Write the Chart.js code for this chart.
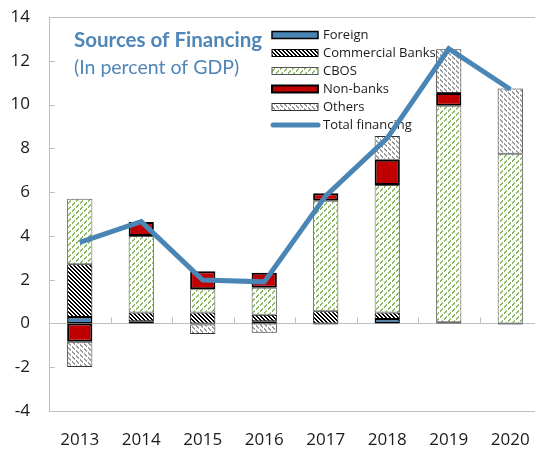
<!DOCTYPE html>
<html>
<head>
<meta charset="utf-8">
<script src="https://cdn.jsdelivr.net/npm/chart.js@4"></script>
<style>
  html, body { margin: 0; padding: 0; background: #fff; overflow: hidden; }
  #wrap { width: 545px; height: 449px; }
</style>
</head>
<body>
<div id="wrap"><canvas id="myChart" width="545" height="449"></canvas></div>
<script>
// data (percent of GDP)
const years = ["2013", "2014", "2015", "2016", "2017", "2018", "2019", "2020"];
const foreign = [0.3, 0.1, -0.05, 0.1, -0.05, 0.2, 0.05, -0.05];
const commercialBanks = [2.4, 0.4, 0.5, 0.3, 0.56, 0.3, 0, 0];
const cbos = [3.0, 3.5, 1.06, 1.23, 5.04, 5.83, 9.9, 7.75];
const nonBanks = [-0.84, 0.63, 0.82, 0.69, 0.35, 1.15, 0.58, 0];
const others = [-1.15, 0, -0.43, -0.43, 0, 1.08, 2.0, 2.98];
const totalFinancing = [3.7, 4.65, 1.98, 1.9, 5.83, 8.47, 12.55, 10.7];
const yTicks = [-4, -2, 0, 2, 4, 6, 8, 10, 12, 14];

const blue = "#4a86b5";

// small pixel tiles for the hatched fills
function hatch(size, test, color) {
	const c = document.createElement("canvas");
	c.width = size;
	c.height = size;
	const g = c.getContext("2d");
	g.fillStyle = "#fff";
	g.fillRect(0, 0, size, size);
	g.fillStyle = color;
	for (let x = 0; x < size; x++) {
		for (let y = 0; y < size; y++) {
			if (test(x, y)) g.fillRect(x, y, 1, 1);
		}
	}
	return g.createPattern(c, "repeat");
}

const ctx = document.getElementById("myChart");

const cbPattern = hatch(4, (x, y) => ((x - y + 40) % 4) < 2, "#000");
const cbosPattern = hatch(12, (x, y) => ((x + y) % 6) < 1.5 && (x % 4) < 3, "#8bb862");
const othersPattern = hatch(20, (x, y) => ((x - y + 40) % 5) < 1.5 && (x % 4) < 3, "#9a9a9a");

const legendItems = [
	{ label: "Foreign", fill: blue, border: "#000", lw: 1.5 },
	{ label: "Commercial Banks", fill: cbPattern, border: "#000", lw: 1 },
	{ label: "CBOS", fill: cbosPattern, border: "#555", lw: 1 },
	{ label: "Non-banks", fill: "#c00000", border: "#000", lw: 2 },
	{ label: "Others", fill: othersPattern, border: "#333", lw: 1 },
	{ label: "Total financing", line: true }
];

// frame, zero line, ticks, title and legend
const decor = {
	id: "decor",
	beforeDatasetsDraw(chart) {
		const c = chart.ctx;
		const a = chart.chartArea;
		const xs = chart.scales.x;
		const ys = chart.scales.y;
		c.save();
		c.strokeStyle = "#bfbfbf";
		c.lineWidth = 1;
		c.beginPath();
		c.moveTo(a.left + 0.5, a.top + 0.5);
		c.lineTo(a.right + 10, a.top + 0.5);
		c.moveTo(a.left + 0.5, a.top);
		c.lineTo(a.left + 0.5, a.bottom + 0.5);
		c.lineTo(a.right + 10, a.bottom + 0.5);
		let y0 = Math.round(ys.getPixelForValue(0)) + 0.5;
		c.moveTo(a.left, y0);
		c.lineTo(a.right + 10, y0);
		for (let i = 0; i < yTicks.length; i++) {
			let ty = Math.round(ys.getPixelForValue(yTicks[i])) + 0.5;
			c.moveTo(a.left, ty);
			c.lineTo(a.left + 6, ty);
		}
		for (let i = 1; i < years.length; i++) {
			let tx = Math.round((xs.getPixelForValue(i - 1) + xs.getPixelForValue(i)) / 2) + 0.5;
			c.moveTo(tx, y0);
			c.lineTo(tx, y0 - 6);
		}
		c.stroke();

		// title
		c.fillStyle = "#4f86b8";
		c.textBaseline = "alphabetic";
		c.textAlign = "left";
		c.font = "bold 20.5px Lato";
		c.fillText("Sources of Financing", 74, 47);
		c.font = "19.5px Lato";
		c.fillText("(In percent of GDP)", 74, 74);

		// legend
		c.font = "13px 'Open Sans'";
		c.textBaseline = "middle";
		for (let i = 0; i < legendItems.length; i++) {
			let it = legendItems[i];
			let cy = 35 + i * 18;
			if (it.line) {
				c.strokeStyle = blue;
				c.lineWidth = 5;
				c.lineCap = "round";
				c.beginPath();
				c.moveTo(273, cy);
				c.lineTo(318, cy);
				c.stroke();
				c.lineCap = "butt";
			} else {
				c.fillStyle = it.fill;
				c.fillRect(272, cy - 3.5, 46, 7);
				c.strokeStyle = it.border;
				c.lineWidth = it.lw;
				c.strokeRect(272, cy - 3.5, 46, 7);
			}
			c.fillStyle = "#1a1a1a";
			c.fillText(it.label, 323, cy + 0.5);
		}
		c.restore();
	}
};

function barSet(label, data, fill, border, width) {
	return {
		type: "bar",
		label: label,
		data: data,
		backgroundColor: fill,
		borderColor: border,
		borderWidth: width,
		borderSkipped: false,
		stack: "bars",
		order: 2,
		categoryPercentage: 1,
		barPercentage: 0.41
	};
}

new Chart(ctx, {
	data: {
		labels: years,
		datasets: [
			barSet("Foreign", foreign, blue, "#000", 1.5),
			barSet("Commercial Banks", commercialBanks, cbPattern, "#000", 1),
			barSet("CBOS", cbos, cbosPattern, "#555", 1),
			barSet("Non-banks", nonBanks, "#c00000", "#000", 2),
			barSet("Others", others, othersPattern, "#333", 1),
			{
				type: "line",
				label: "Total financing",
				data: totalFinancing,
				borderColor: blue,
				borderWidth: 5,
				pointRadius: 0,
				tension: 0,
				stack: "total",
				order: 1
			}
		]
	},
	options: {
		responsive: false,
		animation: false,
		events: [],
		layout: { padding: { top: 17, right: 4, left: 0, bottom: 0 } },
		plugins: {
			legend: { display: false },
			tooltip: { enabled: false }
		},
		scales: {
			x: {
				stacked: true,
				grid: { display: false, drawTicks: false },
				border: { display: false },
				ticks: {
					color: "#1a1a1a",
					font: { family: "'Open Sans'", size: 17 },
					padding: 19,
					maxRotation: 0
				},
				afterFit(s) {
					s.height = 38;
					s.paddingLeft = 0;
					s.paddingRight = 0;
				}
			},
			y: {
				stacked: true,
				min: -4,
				max: 14,
				grid: { display: false, drawTicks: false },
				border: { display: false },
				ticks: {
					stepSize: 2,
					color: "#1a1a1a",
					font: { family: "'Open Sans'", size: 17 },
					padding: 19
				},
				afterFit(s) {
					s.width = 49;
					s.paddingTop = 0;
					s.paddingBottom = 0;
				}
			}
		}
	},
	plugins: [decor]
});
</script>
</body>
</html>
